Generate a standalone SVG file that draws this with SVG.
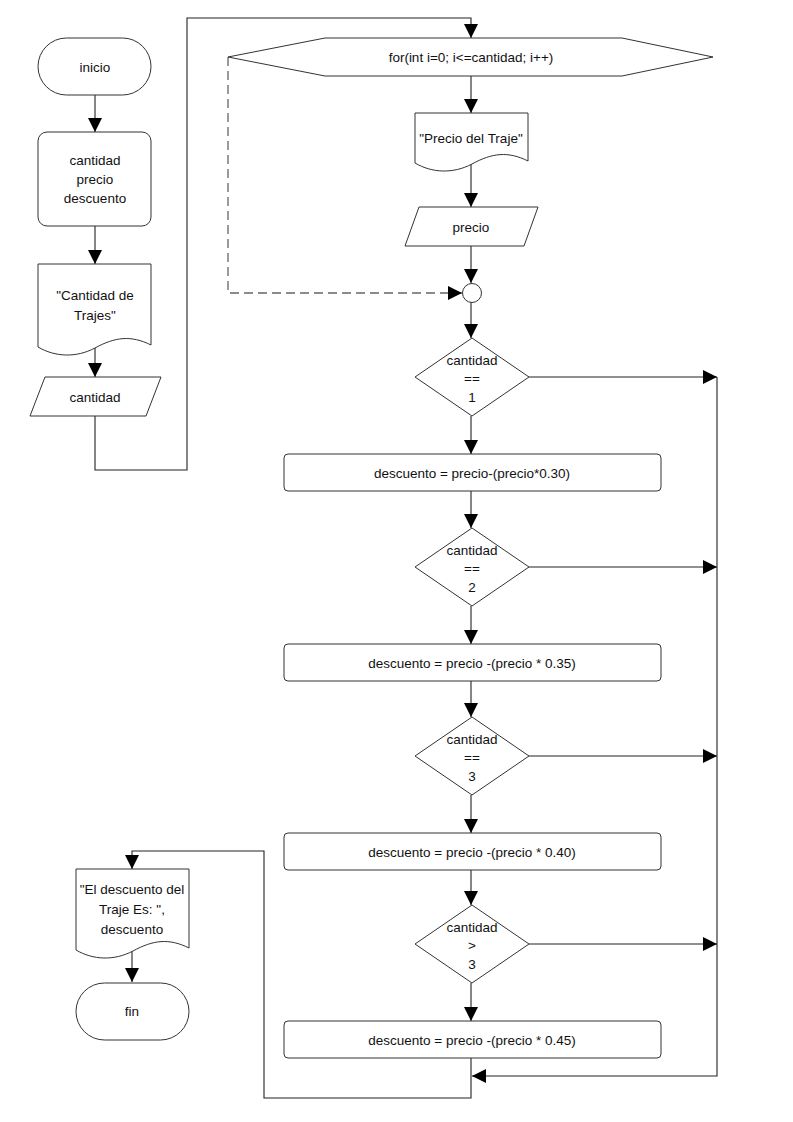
<svg xmlns="http://www.w3.org/2000/svg" width="793" height="1122" viewBox="0 0 793 1122">
<style>
.n{fill:#fff;stroke:#333;stroke-width:1}
.t{font-family:"Liberation Sans",Arial,sans-serif;font-size:13.5px;fill:#111;text-anchor:middle;dominant-baseline:central}
.c{fill:none;stroke:#222;stroke-width:1.1}
.d{fill:none;stroke:#666;stroke-width:1.3;stroke-dasharray:9,5}
</style>
<defs>
<marker id="a" viewBox="0 0 14 14" refX="14" refY="7" markerWidth="14" markerHeight="14" orient="auto" markerUnits="userSpaceOnUse"><path d="M0,0 L14,7 L0,14 Z" fill="#000"/></marker>
</defs>
<rect width="793" height="1122" fill="#fff"/>
<g id="connectors">
<path class="c" d="M95,95 V132" marker-end="url(#a)"/>
<path class="c" d="M95,226 V264" marker-end="url(#a)"/>
<path class="c" d="M95,348 V377" marker-end="url(#a)"/>
<path class="c" d="M95,416 V470 H187 V18 H471 V38" marker-end="url(#a)"/>
<path class="c" d="M471,76 V113" marker-end="url(#a)"/>
<path class="c" d="M471,164 V207" marker-end="url(#a)"/>
<path class="c" d="M471,246 V283" marker-end="url(#a)"/>
<path class="d" d="M228,57 V293 H462" marker-end="url(#a)"/>
<path class="c" d="M471,302 V338" marker-end="url(#a)"/>
<path class="c" d="M471,416 V454" marker-end="url(#a)"/>
<path class="c" d="M471,491 V528" marker-end="url(#a)"/>
<path class="c" d="M471,606 V644" marker-end="url(#a)"/>
<path class="c" d="M471,681 V717" marker-end="url(#a)"/>
<path class="c" d="M471,795 V833" marker-end="url(#a)"/>
<path class="c" d="M471,870 V905" marker-end="url(#a)"/>
<path class="c" d="M471,983 V1021" marker-end="url(#a)"/>
<path class="c" d="M529,377 H717" marker-end="url(#a)"/>
<path class="c" d="M529,567 H717" marker-end="url(#a)"/>
<path class="c" d="M529,756 H717" marker-end="url(#a)"/>
<path class="c" d="M529,944 H717" marker-end="url(#a)"/>
<path class="c" d="M717,377 V1076 H472" marker-end="url(#a)"/>
<path class="c" d="M471,1058 V1098 H264 V851 H132 V869" marker-end="url(#a)"/>
<path class="c" d="M132,950 V982" marker-end="url(#a)"/>
</g>
<g id="inicio"><rect class="n" x="38" y="38" width="113" height="57" rx="28.5"/><text class="t" x="95" y="67">inicio</text></g>
<g id="declare"><rect class="n" x="38" y="132" width="113" height="94" rx="9"/><text class="t" x="95" y="160">cantidad</text><text class="t" x="95" y="179">precio</text><text class="t" x="95" y="198">descuento</text></g>
<g id="docCantidad"><path class="n" d="M38,264 H151 V345 C131,335 115,337 95,348 C76,358 55,357 38,347 Z"/><text class="t" x="95" y="295">"Cantidad de</text><text class="t" x="95" y="315">Trajes"</text></g>
<g id="inCantidad"><path class="n" d="M45,377 H161 L146,416 H30 Z"/><text class="t" x="95" y="397">cantidad</text></g>
<g id="for"><path class="n" d="M228,57 L325,38 H622 L713,57 L622,76 H325 Z"/><text class="t" x="471" y="57">for(int i=0; i&lt;=cantidad; i++)</text></g>
<g id="docPrecio"><path class="n" d="M415,113 H528 V161 C508,151 492,153 472,164 C453,174 432,173 415,163 Z"/><text class="t" x="471" y="138">"Precio del Traje"</text></g>
<g id="inPrecio"><path class="n" d="M419,207 H538 L524,246 H405 Z"/><text class="t" x="471" y="227">precio</text></g>
<g id="junction"><circle class="n" cx="472" cy="293" r="9.5"/></g>
<g id="dec1"><path class="n" d="M472,338 L529,377 L472,416 L415,377 Z"/><text class="t" x="472" y="360">cantidad</text><text class="t" x="472" y="378">==</text><text class="t" x="472" y="397">1</text></g>
<g id="asg1"><rect class="n" x="284" y="454" width="377" height="37" rx="4"/><text class="t" x="472" y="473">descuento = precio-(precio*0.30)</text></g>
<g id="dec2"><path class="n" d="M472,528 L529,567 L472,606 L415,567 Z"/><text class="t" x="472" y="550">cantidad</text><text class="t" x="472" y="568">==</text><text class="t" x="472" y="587">2</text></g>
<g id="asg2"><rect class="n" x="284" y="644" width="377" height="37" rx="4"/><text class="t" x="472" y="663">descuento = precio -(precio * 0.35)</text></g>
<g id="dec3"><path class="n" d="M472,717 L529,756 L472,795 L415,756 Z"/><text class="t" x="472" y="739">cantidad</text><text class="t" x="472" y="757">==</text><text class="t" x="472" y="776">3</text></g>
<g id="asg3"><rect class="n" x="284" y="833" width="377" height="37" rx="4"/><text class="t" x="472" y="852">descuento = precio -(precio * 0.40)</text></g>
<g id="dec4"><path class="n" d="M472,905 L529,944 L472,983 L415,944 Z"/><text class="t" x="472" y="927">cantidad</text><text class="t" x="472" y="945">&gt;</text><text class="t" x="472" y="964">3</text></g>
<g id="asg4"><rect class="n" x="284" y="1021" width="377" height="37" rx="4"/><text class="t" x="472" y="1040">descuento = precio -(precio * 0.45)</text></g>
<g id="docResult"><path class="n" d="M76,869 H189 V948 C169,938 153,940 133,951 C114,961 93,960 76,950 Z"/><text class="t" x="132" y="889">"El descuento del</text><text class="t" x="132" y="909">Traje Es: ",</text><text class="t" x="132" y="929">descuento</text></g>
<g id="fin"><rect class="n" x="76" y="983" width="113" height="57" rx="28.5"/><text class="t" x="132" y="1011">fin</text></g>
</svg>
